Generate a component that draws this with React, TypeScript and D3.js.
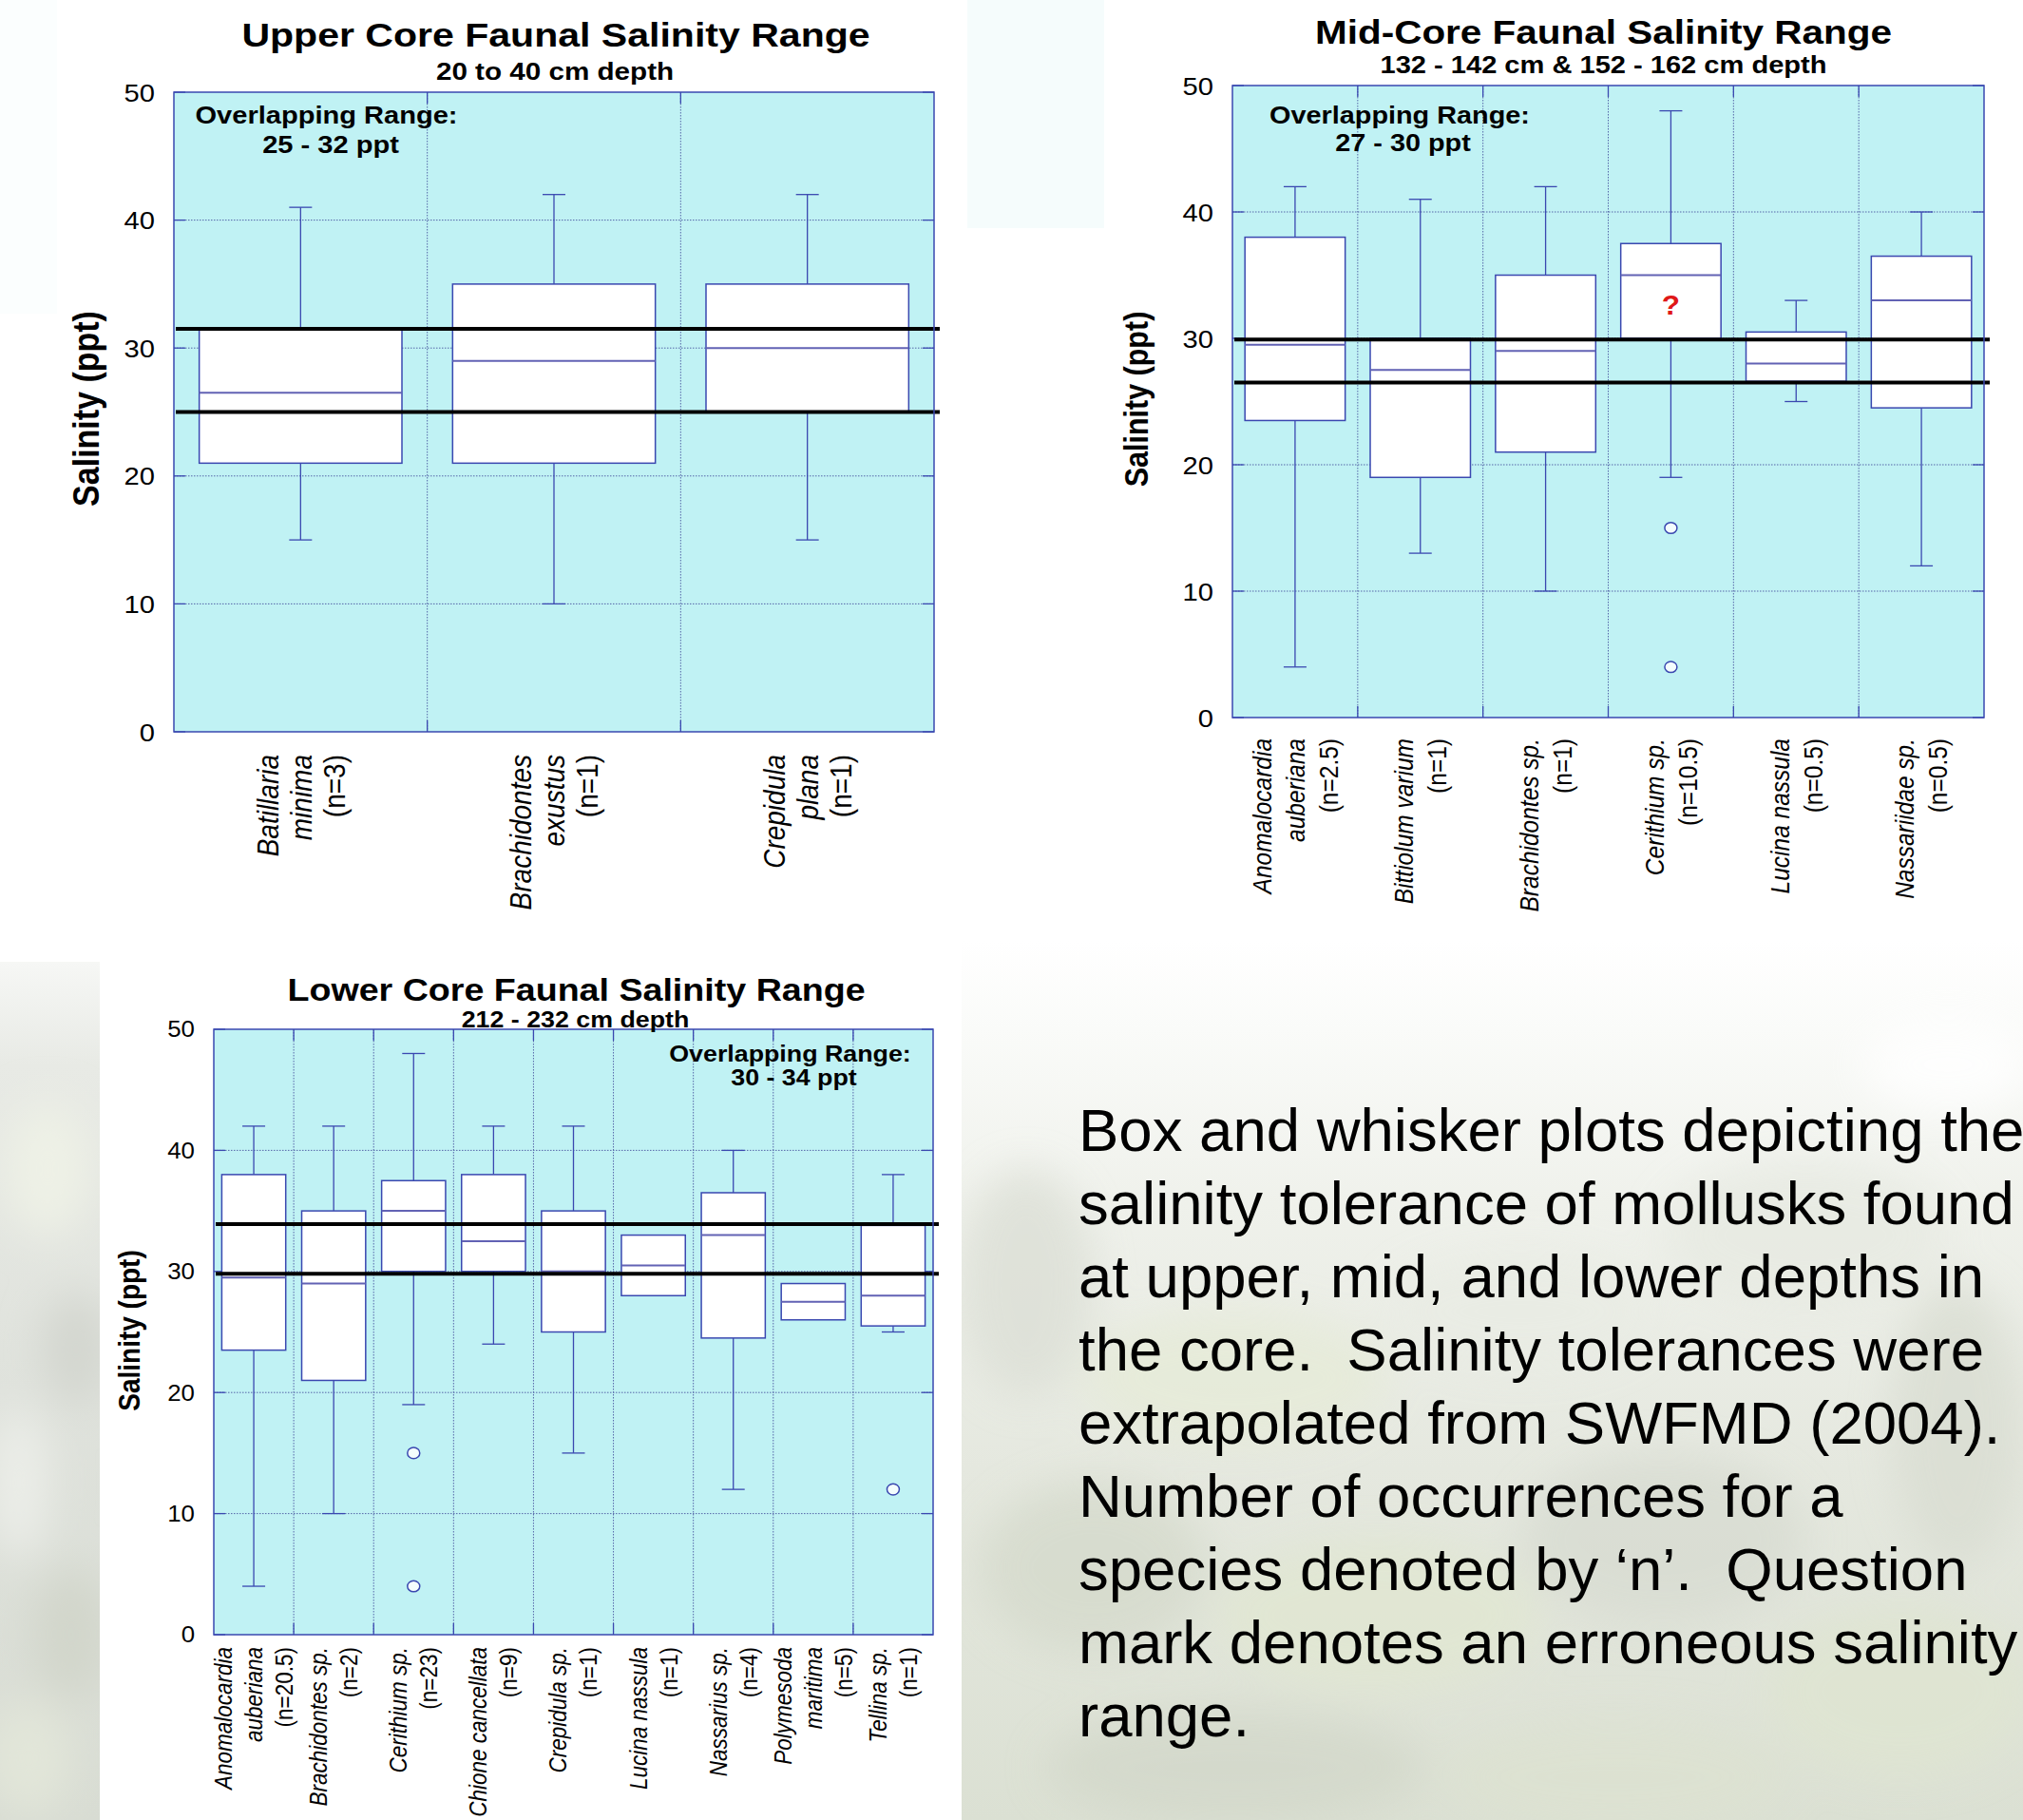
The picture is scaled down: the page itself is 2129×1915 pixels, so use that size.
import React, { useEffect } from 'react';
import * as d3 from 'd3';

const FONT = "'Liberation Sans', Arial, Helvetica, sans-serif";
const SX = 1.14;

const yTicks = [0, 10, 20, 30, 40, 50];

// ---------- Upper core ----------
const upperCategories = [
  ['Batillaria', 'minima', '(n=3)'],
  ['Brachidontes', 'exustus', '(n=1)'],
  ['Crepidula', 'plana', '(n=1)'],
];
const upperLow = [15, 10, 15];
const upperQ1 = [21, 21, 25];
const upperMedian = [26.5, 29, 30];
const upperQ3 = [31.5, 35, 35];
const upperHigh = [41, 42, 42];
const upperOutliers: number[][] = [[], [], []];
const upperOverlap = [25, 31.5];
const upperOverlapText = ['Overlapping Range:', '25 - 32 ppt'];

// ---------- Mid core ----------
const midCategories = [
  ['Anomalocardia', 'auberiana', '(n=2.5)'],
  ['Bittiolum varium', '(n=1)'],
  ['Brachidontes sp.', '(n=1)'],
  ['Cerithium sp.', '(n=10.5)'],
  ['Lucina nassula', '(n=0.5)'],
  ['Nassariidae sp.', '(n=0.5)'],
];
const midLow = [4, 13, 10, 19, 25, 12];
const midQ1 = [23.5, 19, 21, 30, 26.6, 24.5];
const midMedian = [29.5, 27.5, 29, 35, 28, 33];
const midQ3 = [38, 30, 35, 37.5, 30.5, 36.5];
const midHigh = [42, 41, 42, 48, 33, 40];
const midOutliers: number[][] = [[], [], [], [15, 4], [], []];
const midOverlap = [26.5, 29.9];
const midOverlapText = ['Overlapping Range:', '27 - 30 ppt'];
const midQuestion = { cat: 3, value: 32.7, text: '?' };

// ---------- Lower core ----------
const lowerCategories = [
  ['Anomalocardia', 'auberiana', '(n=20.5)'],
  ['Brachidontes sp.', '(n=2)'],
  ['Cerithium sp.', '(n=23)'],
  ['Chione cancellata', '(n=9)'],
  ['Crepidula sp.', '(n=1)'],
  ['Lucina nassula', '(n=1)'],
  ['Nassarius sp.', '(n=4)'],
  ['Polymesoda', 'maritima', '(n=5)'],
  ['Tellina sp.', '(n=1)'],
];
const lowerLow: (number | null)[] = [4, 10, 19, 24, 15, null, 12, null, 25];
const lowerQ1 = [23.5, 21, 30, 30, 25, 28, 24.5, 26, 25.5];
const lowerMedian = [29.5, 29, 35, 32.5, 30, 30.5, 33, 27.5, 28];
const lowerQ3 = [38, 35, 37.5, 38, 35, 33, 36.5, 29, 33.8];
const lowerHigh: (number | null)[] = [42, 42, 48, 42, 42, null, 40, null, 38];
const lowerOutliers: number[][] = [[], [], [15, 4], [], [], [], [], [], [12]];
const lowerOverlap = [29.8, 33.9];
const lowerOverlapText = ['Overlapping Range:', '30 - 34 ppt'];

const captionLines = [
  'Box and whisker plots depicting the',
  'salinity tolerance of mollusks found',
  'at upper, mid, and lower depths in',
  'the core.  Salinity tolerances were',
  'extrapolated from SWFMD (2004).',
  'Number of occurrences for a',
  'species denoted by \u2018n\u2019.  Question',
  'mark denotes an erroneous salinity',
  'range.',
];

const PLOT_BG = '#c0f2f4';
const BLUE = '#3a48b0';
const MEDIAN = '#6262b4';
const GRID = '#5566a8';

function T(props: {
  x: number; y: number; size: number; weight?: string; italic?: boolean;
  anchor?: string; rot?: boolean; fill?: string; dy?: string; children: React.ReactNode; sx?: number;
}) {
  const sx = props.sx ?? SX;
  const tr = `translate(${props.x},${props.y}) scale(${sx},1)` + (props.rot ? ' rotate(-90)' : '');
  return (
    <text
      transform={tr}
      fontFamily={FONT}
      fontSize={props.size}
      fontWeight={props.weight || 'normal'}
      fontStyle={props.italic ? 'italic' : 'normal'}
      textAnchor={props.anchor || 'start'}
      fill={props.fill || '#000'}
      dy={props.dy}
    >
      {props.children}
    </text>
  );
}

type ChartProps = {
  x0: number; x1: number; yTop: number; yBottom: number;
  cats: string[][]; lo: (number | null)[]; q1: number[]; med: number[]; q3: number[];
  hi: (number | null)[]; outliers: number[][]; overlap: number[];
  title: string; subtitle: string; overlapText: string[];
  titlePos: [number, number]; titleSize: number;
  subPos: [number, number]; subSize: number;
  ovPos: [number, number][]; ovSize: number;
  tickSize: number; yTitlePos: [number, number]; yTitleSize: number;
  labelSize: number; labelSpacing: number; labelEndY: number;
  question?: { cat: number; value: number; text: string };
};

function BoxChart(p: ChartProps) {
  const y = d3.scaleLinear().domain([0, 50]).range([p.yBottom, p.yTop]);
  const x = d3.scaleBand<number>().domain(d3.range(p.cats.length)).range([p.x0, p.x1]);
  const bw = x.bandwidth();
  const boxW = bw * 0.8;
  const cap = 12;
  const tickLen = 12;
  const bounds = d3.range(1, p.cats.length).map((i) => x(i) as number);

  return (
    <g>
      <rect x={p.x0} y={p.yTop} width={p.x1 - p.x0} height={p.yBottom - p.yTop} fill={PLOT_BG} />
      {yTicks.filter((t) => t > 0 && t < 50).map((t) => (
        <line key={'h' + t} x1={p.x0} x2={p.x1} y1={y(t)} y2={y(t)} stroke={GRID} strokeWidth={1} strokeDasharray="1.5 1.5" />
      ))}
      {bounds.map((bx, i) => (
        <line key={'v' + i} x1={bx} x2={bx} y1={p.yTop} y2={p.yBottom} stroke={GRID} strokeWidth={1} strokeDasharray="1.5 1.5" />
      ))}
      {yTicks.map((t) => (
        <g key={'t' + t}>
          <line x1={p.x0} x2={p.x0 + tickLen} y1={y(t)} y2={y(t)} stroke={BLUE} strokeWidth={1.3} />
          <line x1={p.x1 - tickLen} x2={p.x1} y1={y(t)} y2={y(t)} stroke={BLUE} strokeWidth={1.3} />
        </g>
      ))}
      {bounds.map((bx, i) => (
        <g key={'bt' + i}>
          <line x1={bx} x2={bx} y1={p.yBottom} y2={p.yBottom - tickLen} stroke={BLUE} strokeWidth={1.3} />
          <line x1={bx} x2={bx} y1={p.yTop} y2={p.yTop + tickLen} stroke={BLUE} strokeWidth={1.3} />
        </g>
      ))}
      {p.cats.map((_, i) => {
        const cx = (x(i) as number) + bw / 2;
        const lo = p.lo[i];
        const hi = p.hi[i];
        return (
          <g key={'b' + i}>
            {lo !== null && (
              <g>
                <line x1={cx} x2={cx} y1={y(lo)} y2={y(p.q1[i])} stroke={BLUE} strokeWidth={1.3} />
                <line x1={cx - cap} x2={cx + cap} y1={y(lo)} y2={y(lo)} stroke={BLUE} strokeWidth={1.3} />
              </g>
            )}
            {hi !== null && (
              <g>
                <line x1={cx} x2={cx} y1={y(hi)} y2={y(p.q3[i])} stroke={BLUE} strokeWidth={1.3} />
                <line x1={cx - cap} x2={cx + cap} y1={y(hi)} y2={y(hi)} stroke={BLUE} strokeWidth={1.3} />
              </g>
            )}
            <rect x={cx - boxW / 2} y={y(p.q3[i])} width={boxW} height={y(p.q1[i]) - y(p.q3[i])} fill="#ffffff" stroke={BLUE} strokeWidth={1.5} />
            <line x1={cx - boxW / 2} x2={cx + boxW / 2} y1={y(p.med[i])} y2={y(p.med[i])} stroke={MEDIAN} strokeWidth={2} />
            {p.outliers[i].map((o, k) => (
              <ellipse key={k} cx={cx} cy={y(o)} rx={6.5} ry={5.8} fill="#f4fdfd" stroke={BLUE} strokeWidth={1.5} />
            ))}
          </g>
        );
      })}
      {p.overlap.map((v, i) => (
        <line key={'o' + i} x1={p.x0 + 2} x2={p.x1 + 6} y1={y(v)} y2={y(v)} stroke="#000" strokeWidth={4} />
      ))}
      <rect x={p.x0} y={p.yTop} width={p.x1 - p.x0} height={p.yBottom - p.yTop} fill="none" stroke={BLUE} strokeWidth={1.5} />
      {p.question && (
        <T x={(x(p.question.cat) as number) + bw / 2} y={y(p.question.value)} size={30} weight="bold" anchor="middle" fill="#e01818" dy="0.35em" sx={1.05}>
          {p.question.text}
        </T>
      )}
      <T x={p.titlePos[0]} y={p.titlePos[1]} size={p.titleSize} weight="bold" anchor="middle">{p.title}</T>
      <T x={p.subPos[0]} y={p.subPos[1]} size={p.subSize} weight="bold" anchor="middle">{p.subtitle}</T>
      {p.overlapText.map((s, i) => (
        <T key={'ot' + i} x={p.ovPos[i][0]} y={p.ovPos[i][1]} size={p.ovSize} weight="bold" anchor="middle">{s}</T>
      ))}
      {yTicks.map((t) => (
        <T key={'yl' + t} x={p.x0 - 20} y={y(t)} size={p.tickSize} anchor="end" dy="0.36em" sx={1.1}>{String(t)}</T>
      ))}
      <T x={p.yTitlePos[0]} y={p.yTitlePos[1]} size={p.yTitleSize} weight="bold" anchor="middle" rot dy="0.35em">Salinity (ppt)</T>
      {p.cats.map((lines, i) => {
        const cx = (x(i) as number) + bw / 2;
        const n = lines.length;
        return lines.map((s, j) => (
          <T key={'xl' + i + '_' + j} x={cx + (j - (n - 1) / 2) * p.labelSpacing} y={p.labelEndY} size={p.labelSize}
            italic={!s.startsWith('(')} anchor="end" rot dy="0.35em">{s}</T>
        ));
      })}
    </g>
  );
}

function Background() {
  return (
    <g>
      <defs>
        <linearGradient id="leftG" x1="0" y1="0" x2="0" y2="1">
          <stop offset="0" stopColor="#f6f7f5" />
          <stop offset="0.12" stopColor="#e8eae5" />
          <stop offset="0.5" stopColor="#dfe2dc" />
          <stop offset="1" stopColor="#d8dcd3" />
        </linearGradient>
        <linearGradient id="rightG" x1="0" y1="0" x2="0" y2="1">
          <stop offset="0" stopColor="#ffffff" />
          <stop offset="0.1" stopColor="#fafbf9" />
          <stop offset="0.3" stopColor="#eff1eb" />
          <stop offset="0.6" stopColor="#e5e8df" />
          <stop offset="1" stopColor="#dbe0d3" />
        </linearGradient>
        <filter id="blurF" x="-50%" y="-50%" width="200%" height="200%">
          <feGaussianBlur stdDeviation="22" />
        </filter>
        <clipPath id="leftClip"><rect x={0} y={1012} width={105} height={903} /></clipPath>
        <clipPath id="rightClip"><rect x={1012} y={990} width={1117} height={925} /></clipPath>
      </defs>
      <rect x={0} y={0} width={2129} height={1915} fill="#ffffff" />
      <rect x={1018} y={0} width={144} height={240} fill="#f5fcfc" />
      <rect x={0} y={0} width={60} height={330} fill="#fbfefe" />
      <g clipPath="url(#leftClip)">
        <rect x={0} y={1012} width={105} height={903} fill="url(#leftG)" />
        <g filter="url(#blurF)">
          <ellipse cx={50} cy={1230} rx={45} ry={70} fill="#eef1e6" />
          <ellipse cx={80} cy={1420} rx={35} ry={60} fill="#d3d6cf" />
          <ellipse cx={20} cy={1560} rx={30} ry={80} fill="#eceee9" />
          <ellipse cx={75} cy={1720} rx={40} ry={70} fill="#d2d6cb" />
          <ellipse cx={30} cy={1850} rx={45} ry={60} fill="#e2e6d9" />
        </g>
      </g>
      <g clipPath="url(#rightClip)">
        <rect x={1012} y={990} width={1117} height={925} fill="url(#rightG)" />
        <g filter="url(#blurF)" opacity={0.8}>
          <ellipse cx={1080} cy={1350} rx={70} ry={120} fill="#dcdfd6" />
          <ellipse cx={1300} cy={1450} rx={160} ry={70} fill="#e6ebd8" />
          <ellipse cx={1600} cy={1380} rx={140} ry={60} fill="#e9ece4" />
          <ellipse cx={1900} cy={1300} rx={150} ry={80} fill="#e7eae2" />
          <ellipse cx={2060} cy={1500} rx={70} ry={150} fill="#d9ddd2" />
          <ellipse cx={1150} cy={1650} rx={120} ry={90} fill="#d5dacc" />
          <ellipse cx={1450} cy={1700} rx={170} ry={80} fill="#e1e7d2" />
          <ellipse cx={1750} cy={1620} rx={150} ry={90} fill="#d8dcd2" />
          <ellipse cx={2000} cy={1780} rx={140} ry={90} fill="#dfe5d1" />
          <ellipse cx={1300} cy={1860} rx={200} ry={60} fill="#d3d8ca" />
          <ellipse cx={1700} cy={1870} rx={180} ry={60} fill="#dde2d1" />
          <ellipse cx={2050} cy={1120} rx={90} ry={50} fill="#ffffff" />
        </g>
      </g>
    </g>
  );
}

function Caption() {
  return (
    <g>
      {captionLines.map((s, i) => (
        <text key={i} x={1135} y={1211 + i * 77} fontFamily={FONT} fontSize={63.5} fill="#000" style={{ whiteSpace: 'pre' }}>
          {s}
        </text>
      ))}
    </g>
  );
}

export default function App() {
  useEffect(() => {
    document.body.style.margin = '0';
  }, []);
  return (
    <svg width={2129} height={1915} viewBox="0 0 2129 1915" style={{ display: 'block', position: 'absolute', left: 0, top: 0 }}>
      <Background />
      <BoxChart
        x0={183} x1={983} yTop={97} yBottom={770}
        cats={upperCategories} lo={upperLow} q1={upperQ1} med={upperMedian} q3={upperQ3} hi={upperHigh}
        outliers={upperOutliers} overlap={upperOverlap}
        title="Upper Core Faunal Salinity Range" subtitle="20 to 40 cm depth" overlapText={upperOverlapText}
        titlePos={[585, 49]} titleSize={36} subPos={[584, 84]} subSize={26}
        ovPos={[[343.5, 130], [348, 161]]} ovSize={25.5}
        tickSize={26.5} yTitlePos={[90, 430]} yTitleSize={34}
        labelSize={28} labelSpacing={35} labelEndY={794}
      />
      <BoxChart
        x0={1297} x1={2088} yTop={90} yBottom={755}
        cats={midCategories} lo={midLow} q1={midQ1} med={midMedian} q3={midQ3} hi={midHigh}
        outliers={midOutliers} overlap={midOverlap}
        title="Mid-Core Faunal Salinity Range" subtitle="132 - 142 cm & 152 - 162 cm depth" overlapText={midOverlapText}
        titlePos={[1687.5, 46]} titleSize={35.5} subPos={[1687.5, 76.5]} subSize={25.5}
        ovPos={[[1473, 130], [1476.5, 159]]} ovSize={25.3}
        tickSize={26.5} yTitlePos={[1196, 420]} yTitleSize={30.5}
        labelSize={24.5} labelSpacing={35} labelEndY={777}
        question={midQuestion}
      />
      <BoxChart
        x0={225} x1={982} yTop={1083} yBottom={1720}
        cats={lowerCategories} lo={lowerLow} q1={lowerQ1} med={lowerMedian} q3={lowerQ3} hi={lowerHigh}
        outliers={lowerOutliers} overlap={lowerOverlap}
        title="Lower Core Faunal Salinity Range" subtitle="212 - 232 cm depth" overlapText={lowerOverlapText}
        titlePos={[606.5, 1052.5]} titleSize={33} subPos={[605.5, 1080.5]} subSize={23.5}
        ovPos={[[831.5, 1117], [835.5, 1142]]} ovSize={23.5}
        tickSize={23.5} yTitlePos={[136, 1400]} yTitleSize={28}
        labelSize={22.5} labelSpacing={32} labelEndY={1733}
      />
      <Caption />
    </svg>
  );
}
